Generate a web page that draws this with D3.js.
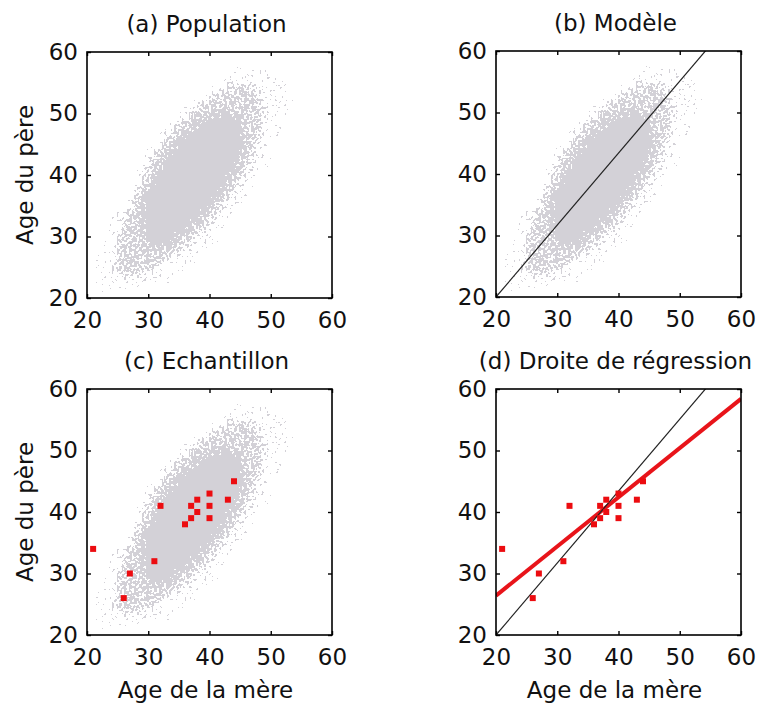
<!DOCTYPE html>
<html>
<head>
<meta charset="utf-8">
<script src="https://d3js.org/d3.v7.min.js"></script>
<style>
  body { margin: 0; background: #fff; }
  text { font-family: "DejaVu Sans", sans-serif; fill: #111; }
  .tick text { font-size: 23px; }
  .frame { fill: none; stroke: #000; stroke-width: 1.6px; }
</style>
</head>
<body>
<div id="chart"></div>
<script>
  // axis ticks (same on both axes)
  const ticks = [20, 30, 40, 50, 60];

  // sample of 15 couples (panel c and d)
  const sampleMere = [21, 26, 27, 31, 32, 36, 37, 37, 38, 38, 40, 40, 40, 43, 44];
  const samplePere = [34, 26, 30, 32, 41, 38, 39, 41, 42, 40, 43, 41, 39, 42, 45];

  // model line (b, d) and fitted regression line (d): pere = slope * mere + intercept
  const model = { slope: 1.17, intercept: -3.4 };
  const regression = { slope: 0.80, intercept: 10.4 };

  // population cloud, read as three density contours [mere, pere]
  const cloudOuter = [[21.3,21.6],[22.8,29.6],[25.4,34.4],[27.7,38.6],[29.9,42.9],[32.6,46.7],[36.4,50.5],
    [40.5,53.7],[43.7,56.9],[48,57.5],[52.3,55.8],[53.4,53.7],[51.3,46.7],[50.0,42.9],[47.8,38.6],
    [45.1,34.8],[42.4,31.1],[39.2,27.3],[35.4,24.0],[31.3,22.0],[26.5,21.0],[22.5,20.8]];
  const cloudMid = [[24.6,26.7],[25.4,31.1],[27.0,34.8],[28.6,38.6],[30.6,43.3],[33.7,47.4],[37.3,50.8],
    [41.0,53.4],[44.3,54.8],[46.8,54.8],[48.3,53.0],[48.9,50.3],[48.4,46.7],[47.0,42.4],[44.9,38.6],
    [42.2,34.8],[39.2,31.1],[36.0,28.2],[32.8,25.8],[29.5,24.0],[26.4,23.4],[24.8,24.3]];
  const cloudCore = [[29.6,30.0],[29.2,34.8],[30.8,38.6],[32.9,42.4],[35.5,45.8],[38.3,48.3],[41.0,49.8],
    [43.4,49.8],[45.0,48.0],[45.4,45.1],[44.4,41.8],[42.6,38.6],[40.5,35.4],[37.8,32.7],[35.2,30.3],
    [32.5,28.6],[30.3,28.6]];

  const W = 757, H = 708;
  const pw = 245, ph = 246;

  const panels = [
    { title: "(a) Population", x0: 87, y0: 52, cloud: true, ylab: true },
    { title: "(b) Modèle", x0: 496, y0: 51, cloud: true, model: true },
    { title: "(c) Echantillon", x0: 87, y0: 389, cloud: true, sample: true, ylab: true, xlab: true },
    { title: "(d) Droite de régression", x0: 496, y0: 389, sample: true, model: true, reg: true, xlab: true }
  ];

  const x = d3.scaleLinear().domain([20, 60]).range([0, pw]);
  const y = d3.scaleLinear().domain([20, 60]).range([ph, 0]);

  const svg = d3.select("#chart").append("svg").attr("width", W).attr("height", H);
  const defs = svg.append("defs");

  defs.append("clipPath").attr("id", "plotclip")
    .append("rect").attr("width", pw).attr("height", ph);

  // speckle filter: blurred density compared with noise
  const f = defs.append("filter").attr("id", "speckle")
    .attr("filterUnits", "userSpaceOnUse")
    .attr("x", -5).attr("y", -5).attr("width", pw + 10).attr("height", ph + 10);
  f.append("feGaussianBlur").attr("in", "SourceAlpha").attr("stdDeviation", 4.5).attr("result", "b");
  f.append("feTurbulence").attr("type", "fractalNoise").attr("baseFrequency", 0.4)
    .attr("numOctaves", 1).attr("seed", 4).attr("result", "n");
  f.append("feColorMatrix").attr("in", "n").attr("type", "matrix")
    .attr("values", "0 0 0 0 0  0 0 0 0 0  0 0 0 0 0  2.2 0 0 0 -0.6").attr("result", "n2");
  f.append("feComponentTransfer").attr("in", "n2").attr("result", "na")
    .append("feFuncA").attr("type", "linear").attr("slope", 0.92).attr("intercept", 0.04);
  f.append("feComposite").attr("in", "b").attr("in2", "na").attr("operator", "arithmetic")
    .attr("k1", 0).attr("k2", 1).attr("k3", -1).attr("k4", 0.5).attr("result", "d");
  f.append("feComponentTransfer").attr("in", "d").attr("result", "m")
    .append("feFuncA").attr("type", "discrete").attr("tableValues", "0 1");
  f.append("feFlood").attr("flood-color", "#d3d1d7").attr("result", "fl");
  f.append("feComposite").attr("in", "fl").attr("in2", "m").attr("operator", "in");

  const line = d3.line().x(d => x(d[0])).y(d => y(d[1])).curve(d3.curveCatmullRomClosed);

  panels.forEach(p => {
    const g = svg.append("g").attr("transform", `translate(${p.x0},${p.y0})`);
    const plot = g.append("g").attr("clip-path", "url(#plotclip)");

    if (p.cloud) {
      const c = plot.append("g").attr("filter", "url(#speckle)");
      c.append("path").attr("d", line(cloudOuter)).attr("fill", "#000").attr("fill-opacity", 0.14);
      c.append("path").attr("d", line(cloudMid)).attr("fill", "#000").attr("fill-opacity", 0.5);
      c.append("path").attr("d", line(cloudCore)).attr("fill", "#000");
    }

    if (p.reg) {
      plot.append("line")
        .attr("x1", x(20)).attr("y1", y(regression.slope * 20 + regression.intercept))
        .attr("x2", x(60)).attr("y2", y(regression.slope * 60 + regression.intercept))
        .attr("stroke", "#e8141a").attr("stroke-width", 4);
    }

    if (p.model) {
      plot.append("line")
        .attr("x1", x(20)).attr("y1", y(model.slope * 20 + model.intercept))
        .attr("x2", x(60)).attr("y2", y(model.slope * 60 + model.intercept))
        .attr("stroke", "#222").attr("stroke-width", 1.2);
    }

    if (p.sample) {
      plot.selectAll("rect.pt").data(sampleMere).join("rect")
        .attr("class", "pt")
        .attr("x", (d, i) => x(d) - 3).attr("y", (d, i) => y(samplePere[i]) - 3)
        .attr("width", 6).attr("height", 6)
        .attr("fill", "#ec0c10");
    }

    // axes with inward ticks
    g.append("g").attr("transform", `translate(0,${ph})`)
      .call(d3.axisBottom(x).tickValues(ticks).tickSize(-4).tickPadding(14).tickFormat(d3.format("d")))
      .call(a => a.select(".domain").remove());
    g.append("g")
      .call(d3.axisLeft(y).tickValues(ticks).tickSize(-4).tickPadding(9).tickFormat(d3.format("d")))
      .call(a => a.select(".domain").remove());
    g.append("g")
      .call(d3.axisTop(x).tickValues(ticks).tickSize(-4).tickFormat(""))
      .call(a => a.select(".domain").remove());
    g.append("g").attr("transform", `translate(${pw},0)`)
      .call(d3.axisRight(y).tickValues(ticks).tickSize(-4).tickFormat(""))
      .call(a => a.select(".domain").remove());
    g.selectAll(".tick line").attr("stroke", "#000").attr("stroke-width", 1.4);
    g.selectAll(".tick text").attr("fill", "#111");

    g.append("rect").attr("class", "frame").attr("width", pw).attr("height", ph);

    g.append("text").attr("x", pw / 2 - 3).attr("y", -20)
      .attr("text-anchor", "middle").attr("font-size", 23).text(p.title);

    if (p.ylab) {
      g.append("text").attr("transform", `translate(-54,${ph / 2}) rotate(-90)`)
        .attr("text-anchor", "middle").attr("font-size", 23).text("Age du père");
    }
    if (p.xlab) {
      g.append("text").attr("x", pw / 2 - 4).attr("y", ph + 63)
        .attr("text-anchor", "middle").attr("font-size", 23).text("Age de la mère");
    }
  });
</script>
</body>
</html>
